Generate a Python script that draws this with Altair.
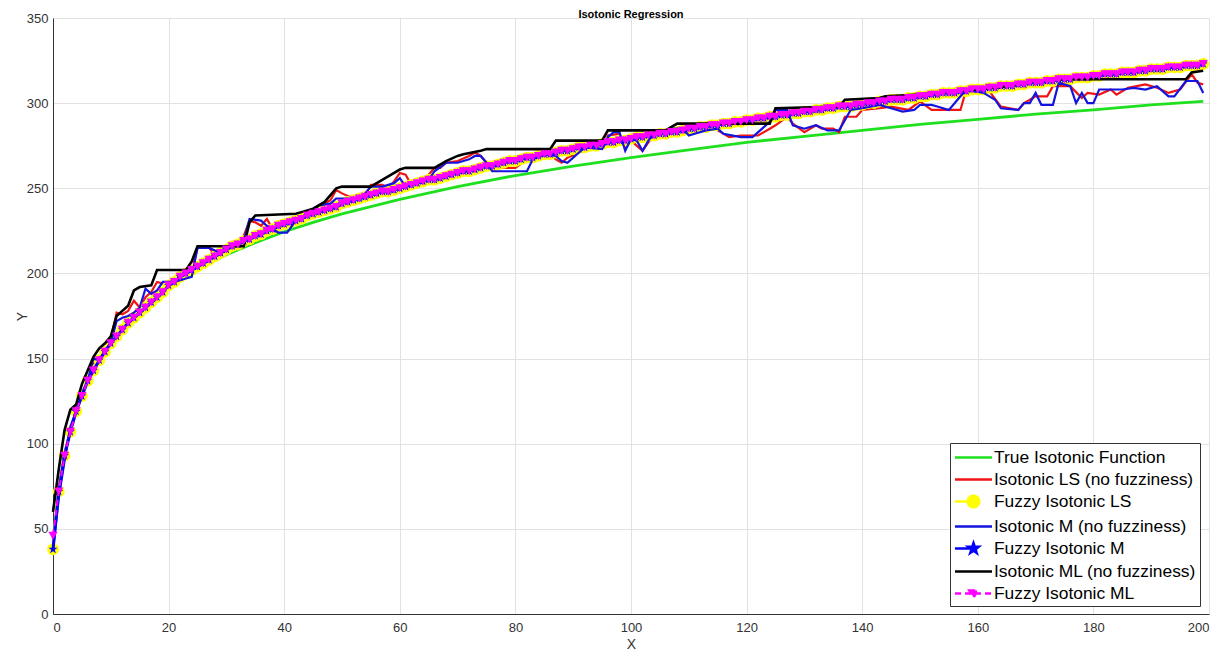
import altair as alt
import pandas as pd

# ---------------- data ----------------
SERIES = ["True Isotonic Function", "Isotonic LS (no fuzziness)", "Fuzzy Isotonic LS",
          "Isotonic M (no fuzziness)", "Fuzzy Isotonic M", "Isotonic ML (no fuzziness)",
          "Fuzzy Isotonic ML"]
COLORS = ["#1ee01e", "#f01414", "#ffff00", "#1414e0", "#0000ff", "#000000", "#ff00ff"]

TRUE_X = [0, 1, 2, 3, 4, 5, 6, 7, 8, 9, 10, 12, 14, 16, 18, 20, 23, 26, 30, 35, 40, 45, 50,
          60, 70, 80, 90, 100, 110, 120, 130, 140, 150, 160, 170, 180, 190, 199]
TRUE_Y = [44, 72, 93, 108, 119, 128, 136, 143, 149, 154, 159, 167, 174, 180, 186, 191, 198,
          204, 211, 218, 224.5, 230, 235, 243.5, 251, 257.5, 263, 268, 272.5, 277, 280.5,
          284, 287.5, 290.5, 293.5, 296, 299, 301]

LS_X = [0, 1, 2, 3, 4, 5, 6, 7, 8, 9, 10, 11, 12, 13, 14, 15, 16, 17, 18, 19, 20, 22, 24,
        25, 27, 28, 30, 33, 34, 35, 36, 37, 38, 40, 42, 44, 46, 47, 48, 49, 50, 52, 54, 55,
        57, 58, 59, 60, 61, 62, 64, 66, 67, 68, 70, 72, 73, 74, 75, 76, 80, 82, 84, 86, 87,
        88, 89, 91, 93, 95, 96, 98, 99, 100, 102, 103, 104, 107, 109, 111, 114, 115, 117,
        119, 122, 124, 125, 127, 128, 130, 132, 133, 135, 136, 137, 139, 140, 143, 145, 148,
        150, 152, 157, 158, 162, 164, 167, 168, 170, 172, 173, 176, 178, 179, 181, 183, 184,
        186, 189, 191, 193, 195, 197, 198, 199]
LS_Y = [40, 72, 95, 108, 120, 130, 137, 147, 150, 155, 160, 177, 176, 178, 184, 180, 186,
        189, 195, 194, 195, 198, 201, 215, 215, 211, 214, 222, 231, 230, 228, 232, 226, 229,
        232, 235, 237, 241, 243, 249, 247, 244, 245, 252, 252, 250, 254, 259, 258, 252, 254,
        262, 262, 265, 266, 269, 271, 269, 265, 262, 262, 267, 269, 270, 267, 265, 268, 271,
        273, 274, 281, 282, 274, 278, 272, 277, 281, 285, 286, 284, 287, 284, 280, 281, 281,
        285, 287, 292, 288, 283, 287, 285, 285, 283, 292, 292, 296, 297, 298, 296, 301, 296,
        296, 308, 307, 298, 296, 300, 304, 304, 310, 310, 303, 306, 305, 308, 305, 309, 311,
        309, 306, 308, 317, 312, 311]

M_X = [0, 1, 2, 3, 4, 5, 6, 7, 8, 9, 10, 11, 12, 13, 14, 15, 16, 17, 18, 19, 21, 23, 24, 25,
       27, 29, 31, 33, 34, 36, 37, 39, 40.5, 42, 44, 46, 48, 49, 51, 53, 55, 57, 58, 59, 60,
       61, 63, 65, 66, 68, 70, 72, 73, 74, 75, 76, 79, 82, 83, 85, 87, 88, 89, 90, 91, 92,
       95, 96, 97, 98, 99, 100, 101, 102, 103, 104, 105, 107, 109, 110, 111, 113, 115, 116,
       119, 121, 122, 124, 125, 127, 128, 130, 132, 134, 136, 137, 138, 140, 143, 145, 147,
       149, 150, 152, 153, 155, 157, 158, 161, 163, 164, 167, 168, 169, 170, 171, 173, 174,
       176, 177, 178, 179, 180, 181, 185, 187, 189, 191, 193, 194, 196, 198, 199]
M_Y = [38, 68, 90, 110, 119, 129, 137, 150, 149, 155, 159, 172, 174, 175, 177, 180, 191,
       188, 190, 195, 195, 197, 198, 215, 215, 212, 216, 219, 232, 231, 228, 224, 224, 231,
       234, 240, 241, 244, 244, 243, 251, 251, 252, 253, 256, 251, 253, 255, 260, 265, 265,
       267, 269, 269, 265, 260, 260, 260, 267, 270, 269, 266, 265, 268, 271, 274, 273, 280,
       283, 283, 272, 279, 278, 272, 278, 282, 283, 285, 285, 281, 282, 284, 285, 282, 280,
       280, 283, 289, 296, 296, 287, 285, 287, 284, 284, 290, 296, 297, 299, 297, 295, 296,
       299, 299, 298, 296, 304, 308, 306, 302, 297, 296, 300, 300, 306, 299, 299, 312, 310,
       300, 306, 300, 300, 308, 308, 309, 308, 310, 304, 304, 313, 313, 306]

ML_X = [0, 1, 2, 3, 4, 5, 6, 7, 8, 9, 10, 11, 12, 13, 14, 15, 17, 18, 23, 24, 25, 33, 34,
        35, 42, 43, 45, 47, 49, 50, 55, 56, 58, 60, 61, 66, 68, 70, 71, 74, 75, 86, 87, 95,
        96, 106, 107, 108, 124, 125, 136, 137, 143, 144, 150, 155, 160, 165, 170, 175, 196,
        197, 199]
ML_Y = [60, 85, 108, 120, 123, 135, 143, 151, 156, 159, 163, 175, 178, 181, 190, 192, 193,
        202, 202, 207, 216, 216, 230, 234, 235, 236, 238, 242, 250, 251, 251, 253, 257, 261,
        262, 262, 266, 269, 270, 272, 273, 273, 278, 278, 284, 284, 286, 288, 288, 297, 298,
        302, 303, 304, 305, 307, 308, 310, 313, 314, 314, 318, 319]

# fuzzy estimates, one per integer x = 0..199
FUZZY_X = list(range(200))
FUZZY_ML = [46, 72, 93, 107, 119, 128, 137, 143, 149, 154,
            159, 163, 167, 171, 174, 177, 180, 183, 186, 189,
            193, 195, 198, 200, 202, 204, 206, 208, 210, 212,
            214, 216, 217, 219, 220, 222, 223, 225, 226, 228,
            229, 230, 231, 232, 234, 235, 236, 237, 238, 239,
            241, 242, 243, 244, 245, 246, 247, 248, 248, 249,
            250, 251, 252, 253, 254, 255, 255, 256, 257, 258,
            259, 260, 260, 261, 262, 263, 263, 264, 265, 266,
            266, 267, 268, 268, 269, 270, 270, 271, 272, 272,
            273, 274, 274, 275, 275, 276, 277, 277, 278, 278,
            279, 280, 280, 281, 281, 282, 282, 283, 283, 284,
            285, 285, 286, 286, 287, 287, 288, 288, 289, 289,
            290, 290, 291, 291, 292, 292, 293, 293, 294, 294,
            295, 295, 296, 296, 297, 297, 298, 298, 298, 299,
            299, 300, 300, 301, 301, 302, 302, 302, 303, 303,
            304, 304, 305, 305, 306, 306, 306, 307, 307, 308,
            308, 308, 309, 309, 310, 310, 310, 311, 311, 312,
            312, 312, 313, 313, 314, 314, 314, 315, 315, 315,
            316, 316, 317, 317, 317, 318, 318, 318, 319, 319,
            320, 320, 320, 321, 321, 321, 322, 322, 322, 323]
FUZZY_LS = [38] + FUZZY_ML[1:]
FUZZY_M = [38] + FUZZY_ML[1:]

# ---------------- styling ----------------
FONT = "Liberation Sans"
STAR = ("M0,-1L0.24,-0.31L0.95,-0.31L0.38,0.12L0.59,0.81L0,0.4L-0.59,0.81"
        "L-0.38,0.12L-0.95,-0.31L-0.24,-0.31Z")
LEG_LINE = "M-1.85,0L1.85,0"
LEG_CIRCLE = "M-1.85,0L0,0M-0.58,0A0.58,0.58 0 1,0 0.58,0A0.58,0.58 0 1,0 -0.58,0Z"
LEG_STAR = ("M-1.85,0L0,0M0,-0.55L0.13,-0.17L0.52,-0.17L0.21,0.07L0.32,0.45L0,0.22"
            "L-0.32,0.45L-0.21,0.07L-0.52,-0.17L-0.13,-0.17Z")
LEG_TRI = "M-1.85,0L1.85,0M-0.42,-0.3L0.42,-0.3L0,0.4Z"
LEG_SHAPES = [LEG_LINE, LEG_LINE, LEG_CIRCLE, LEG_LINE, LEG_STAR, LEG_LINE, LEG_TRI]
LEG_DASHES = [[1, 0], [1, 0], [1, 0], [1, 0], [1, 0], [1, 0], [6, 4]]

XS = alt.Scale(domain=[0, 200], nice=False, zero=False)
YS = alt.Scale(domain=[0, 350], nice=False, zero=False)
X = alt.X("x:Q", scale=XS, axis=alt.Axis(values=list(range(0, 201, 20)), title="X"))
Y = alt.Y("y:Q", scale=YS, axis=alt.Axis(values=list(range(0, 351, 50)), title="Y"))


def frame(xs, ys):
    return pd.DataFrame({"x": xs, "y": ys})


def line(xs, ys, color, width, dash=None):
    kw = dict(color=color, strokeWidth=width, clip=False)
    if dash is not None:
        kw["strokeDash"] = dash
    return alt.Chart(frame(xs, ys)).mark_line(**kw).encode(x=X, y=Y)


def pts(xs, ys, color, shape, size):
    return alt.Chart(frame(xs, ys)).mark_point(
        shape=shape, filled=True, color=color, size=size, opacity=1, strokeWidth=0.5
    ).encode(x=X, y=Y)


leg = alt.Legend(title=None, orient="none", legendX=897, legendY=425)
leg_df = pd.DataFrame({"series": SERIES, "x": [0] * 7, "y": [46] * 7})
legend_layer = alt.Chart(leg_df).mark_point(opacity=0).encode(
    x=X, y=Y,
    shape=alt.Shape("series:N", scale=alt.Scale(domain=SERIES, range=LEG_SHAPES), legend=leg),
    fill=alt.Fill("series:N", scale=alt.Scale(domain=SERIES, range=COLORS), legend=leg),
    stroke=alt.Stroke("series:N", scale=alt.Scale(domain=SERIES, range=COLORS), legend=leg),
    strokeDash=alt.StrokeDash("series:N", scale=alt.Scale(domain=SERIES, range=LEG_DASHES),
                              legend=leg),
)

chart = alt.layer(
    line(TRUE_X, TRUE_Y, COLORS[0], 2.8),
    line(LS_X, LS_Y, COLORS[1], 2.2),
    line(FUZZY_X, FUZZY_LS, COLORS[2], 3),
    pts(FUZZY_X, FUZZY_LS, COLORS[2], "circle", 140),
    line(M_X, M_Y, COLORS[3], 2.2),
    line(FUZZY_X, FUZZY_M, COLORS[4], 3),
    pts(FUZZY_X, FUZZY_M, COLORS[4], STAR, 90),
    line(ML_X, ML_Y, COLORS[5], 2.6),
    line(FUZZY_X, FUZZY_ML, COLORS[6], 2, dash=[6, 4]),
    pts(FUZZY_X, FUZZY_ML, COLORS[6], "triangle-down", 85),
    legend_layer,
).properties(
    width=1156, height=596,
    title=alt.TitleParams("Isotonic Regression", font=FONT, fontSize=11, fontWeight="bold",
                          color="#000000", offset=4, dy=12),
    autosize=alt.AutoSizeParams(type="none"),
    padding={"left": 45, "top": 10, "right": 4, "bottom": 38},
).configure_view(
    stroke="#cfcfcf", strokeWidth=1
).configure_axis(
    labelFont=FONT, labelFontSize=13, labelColor="#333333", labelPadding=7,
    titleFont=FONT, titleFontSize=14, titleFontWeight="normal", titleColor="#333333",
    gridColor="#e2e2e2", gridWidth=1, domainColor="#333333", domainWidth=1,
    ticks=False,
).configure_axisX(
    titlePadding=3
).configure_axisY(
    titlePadding=-3, labelPadding=5
).configure_legend(
    labelFont=FONT, labelFontSize=17.4, labelColor="#000000", labelLimit=400,
    strokeColor="#333333", fillColor="#ffffff", padding=3, rowPadding=2,
    symbolSize=400, symbolStrokeWidth=2.5, symbolOpacity=1, symbolOffset=9,
    labelOffset=9, cornerRadius=0,
)

chart.save("out.html", embed_options={"renderer": "svg", "actions": False})
